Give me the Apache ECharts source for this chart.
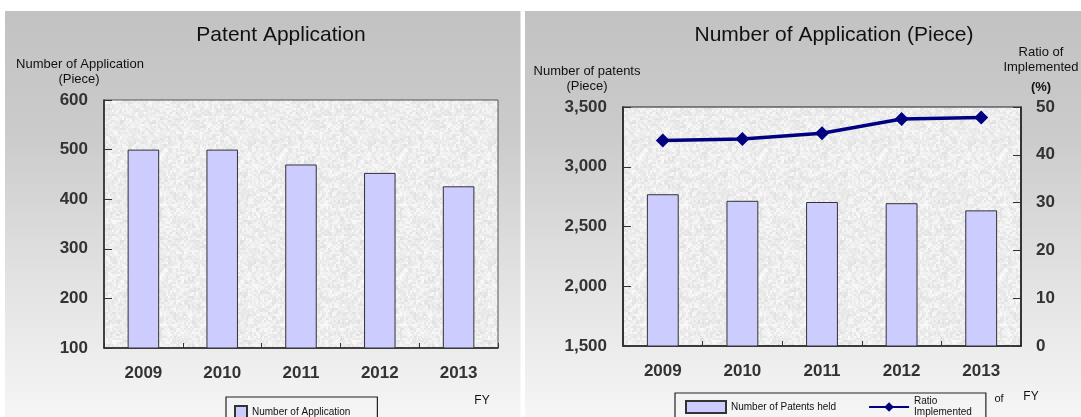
<!DOCTYPE html>
<html>
<head>
<meta charset="utf-8">
<script src="https://cdn.jsdelivr.net/npm/echarts/dist/echarts.min.js"></script>
<style>
html,body{margin:0;padding:0;background:#fff;}
#main{width:1081px;height:417px;}
</style>
</head>
<body>
<div id="main"></div>
<script>
// ---- data ----
const years = ['2009', '2010', '2011', '2012', '2013'];
const applications = [500, 500, 470, 453, 426];
const patentsHeld = [2770, 2715, 2705, 2695, 2635];
const implementedRatio = [43.0, 43.3, 44.5, 47.5, 47.8];
const appAxisRange = [100, 600, 100];      // min, max, interval
const heldAxisRange = [1500, 3500, 500];
const ratioAxisRange = [0, 50, 10];
const legendLeft = ['Number of Application'];
const legendRight = ['Number of Patents held', 'Ratio\nImplemented'];

// ---- speckled plot texture (deterministic) ----
function speckle() {
  const n = 120;
  const c = document.createElement('canvas');
  c.width = n; c.height = n;
  const ctx = c.getContext('2d');
  for (let y = 0; y < n; y += 2) {
    for (let x = 0; x < n; x += 2) {
      let h = Math.sin(x * 12.9898 + y * 78.233) * 43758.5453;
      h = h - Math.floor(h);
      let k = Math.sin((x >> 2) * 3.17 + (y >> 2) * 11.71) * 9631.77;
      k = k - Math.floor(k);
      const g = Math.round(222 + h * 20 + k * 10);
      ctx.fillStyle = 'rgb(' + g + ',' + g + ',' + g + ')';
      ctx.fillRect(x, y, 2, 2);
    }
  }
  return c;
}
const tex = { image: speckle(), repeat: 'repeat' };

const FONT = '"Liberation Sans", Arial, sans-serif';
const panelGrad = {
  type: 'linear', x: 0, y: 0, x2: 0, y2: 1,
  colorStops: [
    { offset: 0, color: '#c2c2c2' },
    { offset: 0.3, color: '#cbcbcb' },
    { offset: 0.65, color: '#e2e2e2' },
    { offset: 1, color: '#f6f6f6' }
  ]
};

function txt(text, x, y, size, bold, align) {
  return {
    type: 'text', x: x, y: y, z: 5,
    style: {
      text: text, fill: '#111', fontSize: size, fontFamily: FONT,
      fontWeight: bold ? 'bold' : 'normal',
      align: align || 'center', verticalAlign: 'middle'
    }
  };
}

const labelStyle = { color: '#333', fontSize: 17, fontWeight: 'bold', fontFamily: FONT };
const axisLine = { show: true, lineStyle: { color: '#222', width: 1.5 } };

const chart = echarts.init(document.getElementById('main'), null, { renderer: 'canvas' });
chart.setOption({
  backgroundColor: '#ffffff',
  animation: false,
  graphic: [
    { type: 'rect', z: -10, shape: { x: 5, y: 11, width: 515.5, height: 410 }, style: { fill: panelGrad } },
    { type: 'rect', z: -10, shape: { x: 525, y: 11, width: 560, height: 410 }, style: { fill: panelGrad } },
    txt('Patent Application', 281, 35, 21),
    txt('Number of Application', 80, 64, 13),
    txt('(Piece)', 79, 79, 13),
    txt('FY', 482, 401, 12),
    txt('Number of Application (Piece)', 834, 35, 21),
    txt('Number of patents', 587, 71, 13),
    txt('(Piece)', 587, 86, 13),
    txt('Ratio of', 1041, 52, 13),
    txt('Implemented', 1041, 67, 13),
    txt('(%)', 1041, 87, 13, true),
    txt('of', 999, 399, 11),
    txt('FY', 1031, 397, 12)
  ],
  grid: [
    { left: 104, top: 100, width: 394, height: 248, show: true, backgroundColor: tex, borderColor: '#555', borderWidth: 1 },
    { left: 623, top: 107, width: 398, height: 239, show: true, backgroundColor: tex, borderColor: '#222', borderWidth: 1.2 }
  ],
  legend: [
    {
      data: legendLeft.map(n => ({ name: n, icon: 'rect' })),
      left: 226, top: 397, orient: 'horizontal',
      itemWidth: 12, itemHeight: 12, itemGap: 30,
      padding: [8, 27, 12, 8],
      borderColor: '#222', borderWidth: 1.2,
      textStyle: { fontSize: 10, color: '#111', fontFamily: FONT },
      selectedMode: false
    },
    {
      data: [{ name: legendRight[0], icon: 'rect' }, { name: legendRight[1] }],
      left: 675, top: 393, orient: 'horizontal',
      itemWidth: 40, itemHeight: 12, itemGap: 32,
      padding: [3, 14, 6, 10],
      borderColor: '#222', borderWidth: 1.2,
      textStyle: { fontSize: 10, color: '#111', fontFamily: FONT, lineHeight: 11 },
      selectedMode: false
    }
  ],
  xAxis: [
    {
      type: 'category', gridIndex: 0, data: years,
      axisLine: axisLine,
      axisTick: { show: true, inside: true, length: 5, lineStyle: { color: '#333' } },
      axisLabel: Object.assign({ margin: 17 }, labelStyle),
      splitLine: { show: false }
    },
    {
      type: 'category', gridIndex: 1, data: years,
      axisLine: axisLine,
      axisTick: { show: true, inside: true, length: 5, lineStyle: { color: '#333' } },
      axisLabel: Object.assign({ margin: 17 }, labelStyle),
      splitLine: { show: false }
    }
  ],
  yAxis: [
    {
      type: 'value', gridIndex: 0,
      min: appAxisRange[0], max: appAxisRange[1], interval: appAxisRange[2],
      axisLine: axisLine,
      axisTick: { show: true, inside: true, length: 8, lineStyle: { color: '#333' } },
      axisLabel: Object.assign({ margin: 16 }, labelStyle),
      splitLine: { show: false }
    },
    {
      type: 'value', gridIndex: 1,
      min: heldAxisRange[0], max: heldAxisRange[1], interval: heldAxisRange[2],
      axisLine: axisLine,
      axisTick: { show: true, inside: true, length: 8, lineStyle: { color: '#333' } },
      axisLabel: Object.assign({ margin: 16, formatter: v => v.toLocaleString('en-US') }, labelStyle),
      splitLine: { show: false }
    },
    {
      type: 'value', gridIndex: 1, position: 'right',
      min: ratioAxisRange[0], max: ratioAxisRange[1], interval: ratioAxisRange[2],
      axisLine: axisLine,
      axisTick: { show: true, inside: true, length: 8, lineStyle: { color: '#333' } },
      axisLabel: Object.assign({ margin: 15 }, labelStyle),
      splitLine: { show: false }
    }
  ],
  series: [
    {
      name: legendLeft[0], type: 'bar', xAxisIndex: 0, yAxisIndex: 0,
      data: applications, barWidth: '40%',
      itemStyle: { color: '#ccccff', borderColor: '#333', borderWidth: 1 }
    },
    {
      name: legendRight[0], type: 'bar', xAxisIndex: 1, yAxisIndex: 1,
      data: patentsHeld, barWidth: '40%',
      itemStyle: { color: '#ccccff', borderColor: '#333', borderWidth: 1 }
    },
    {
      name: legendRight[1], type: 'line', xAxisIndex: 1, yAxisIndex: 2,
      data: implementedRatio, symbol: 'diamond', symbolSize: 14,
      lineStyle: { color: '#000080', width: 3.5 },
      itemStyle: { color: '#000080' }, z: 5
    }
  ]
});
</script>
</body>
</html>
